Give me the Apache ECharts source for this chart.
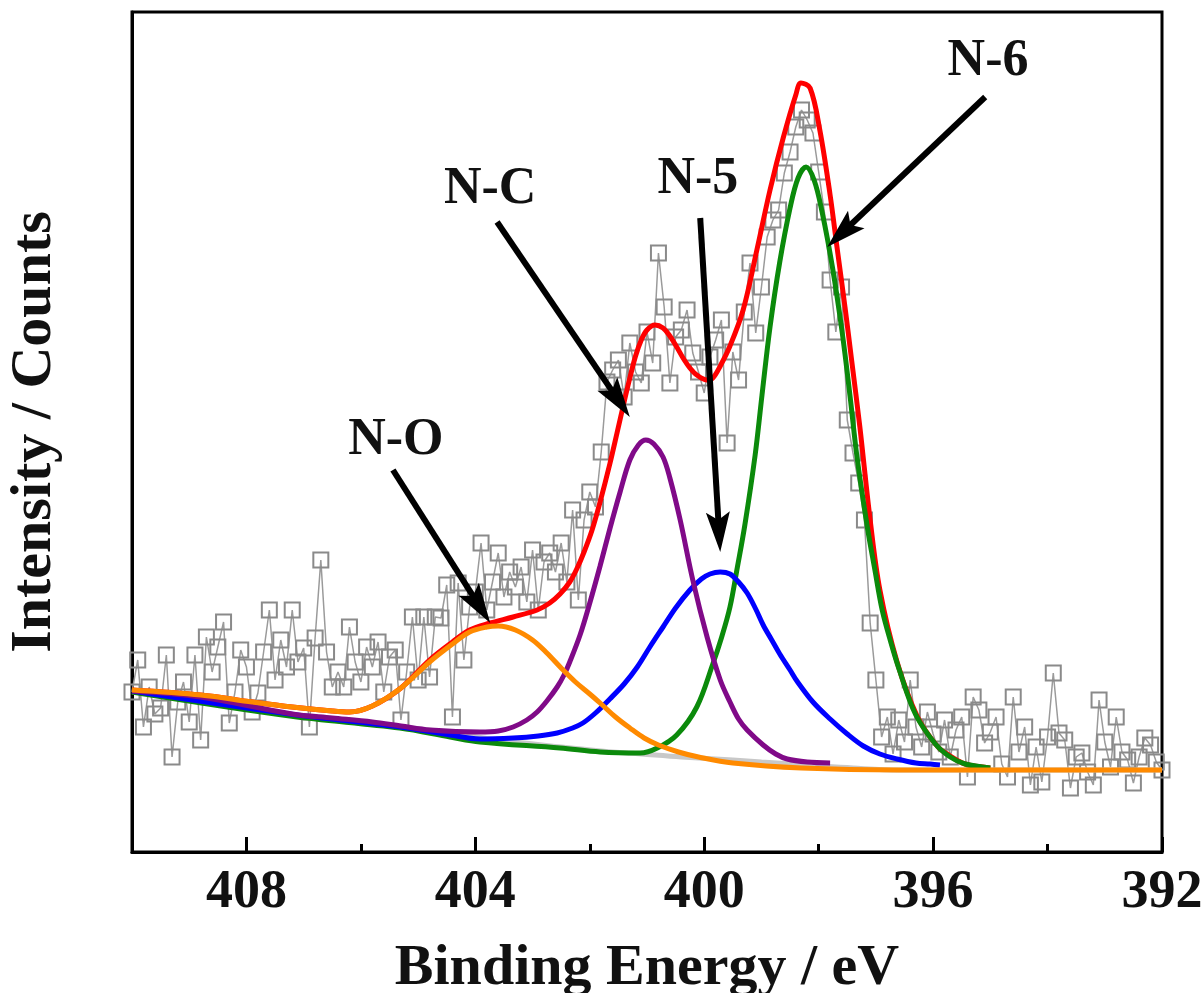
<!DOCTYPE html>
<html><head><meta charset="utf-8">
<script src="https://cdn.jsdelivr.net/npm/echarts@6/dist/echarts.min.js"></script>
<style>html,body{margin:0;padding:0;background:#fff}#c{width:1203px;height:993px}</style>
</head><body><div id="c"></div>
<script>
// ---- data (binding energy in eV, intensity in arbitrary counts) ----
const energy = [
410.0,409.9,409.8,409.7,409.6,409.5,409.4,409.3,409.2,409.1,
409.0,408.9,408.8,408.7,408.6,408.5,408.4,408.3,408.2,408.1,
408.0,407.9,407.8,407.7,407.6,407.5,407.4,407.3,407.2,407.1,
407.0,406.9,406.8,406.7,406.6,406.5,406.4,406.3,406.2,406.1,
406.0,405.9,405.8,405.7,405.6,405.5,405.4,405.3,405.2,405.1,
405.0,404.9,404.8,404.7,404.6,404.5,404.4,404.3,404.2,404.1,
404.0,403.9,403.8,403.7,403.6,403.5,403.4,403.3,403.2,403.1,
403.0,402.9,402.8,402.7,402.6,402.5,402.4,402.3,402.2,402.1,
402.0,401.9,401.8,401.7,401.6,401.5,401.4,401.3,401.2,401.1,
401.0,400.9,400.8,400.7,400.6,400.5,400.4,400.3,400.2,400.1,
400.0,399.9,399.8,399.7,399.6,399.5,399.4,399.3,399.2,399.1,
399.0,398.9,398.8,398.7,398.6,398.5,398.4,398.3,398.2,398.1,
398.0,397.9,397.8,397.7,397.6,397.5,397.4,397.3,397.2,397.1,
397.0,396.9,396.8,396.7,396.6,396.5,396.4,396.3,396.2,396.1,
396.0,395.9,395.8,395.7,395.6,395.5,395.4,395.3,395.2,395.1,
395.0,394.9,394.8,394.7,394.6,394.5,394.4,394.3,394.2,394.1,
394.0,393.9,393.8,393.7,393.6,393.5,393.4,393.3,393.2,393.1,
393.0,392.9,392.8,392.7,392.6,392.5,392.4,392.3,392.2,392.1,
392.0];
const counts = [
160,192,125,165,138,144,197,95,150,170,
130,197,112,215,180,205,230,129,160,202,
185,140,159,200,242,172,212,185,242,190,
204,125,214,292,200,165,180,165,225,190,
170,205,185,210,160,195,202,132,180,235,
172,235,175,235,234,267,135,269,192,245,
260,309,242,270,299,255,280,265,285,250,
302,242,290,299,280,309,270,342,252,332,
360,345,400,470,482,492,455,509,480,469,
520,489,599,545,469,515,522,542,499,480,
459,495,512,532,409,500,472,540,589,519,
565,615,632,642,679,700,725,742,732,719,
680,640,572,520,565,432,399,369,332,229,
172,115,135,98,132,110,172,125,105,140,
118,100,132,95,122,135,75,155,142,109,
120,135,88,75,155,100,125,67,105,70,
115,179,119,112,64,95,99,80,67,152,
110,85,135,100,92,69,95,114,107,90,
82];

const background = [[410.0,160],[408.8,155],[407.2,137],[406.2,130],[405.3,125],[404.4,119],[403.6,112],[402.5,105],[401.8,101],[401.1,98],[400.4,95],[399.5,92],[399.0,90],[398.2,87],[397.4,84],[396.6,82],[392.0,82]];
const fitEnvelope = [[410.0,162],[408.8,157],[407.9,150],[407.2,145],[406.5,141],[406.2,140],[405.8,146],[405.3,164],[404.8,192],[404.4,210],[404.1,222],[403.74,229],[403.34,235],[402.92,242],[402.7,249],[402.52,258],[402.35,270],[402.22,284],[402.1,300],[401.96,322],[401.82,350],[401.65,388],[401.52,420],[401.4,450],[401.3,474],[401.2,496],[401.1,512],[401.0,522],[400.86,527],[400.72,524],[400.6,516],[400.48,505],[400.37,494],[400.25,484],[400.13,477],[399.95,472],[399.85,474],[399.72,486],[399.55,506],[399.32,542],[399.08,602],[398.85,662],[398.62,714],[398.4,757],[398.31,769],[398.15,764],[397.98,722],[397.8,657],[397.68,605],[397.54,545],[397.42,490],[397.28,425],[397.1,332],[396.93,262],[396.63,190],[396.28,136],[395.93,106],[395.7,96],[395.44,88],[395.0,84]];
const peakN6 = [[410.0,160],[407.24,136],[405.32,124],[404.44,115],[403.92,110],[402.52,104],[401.82,100],[401.12,99],[400.82,104],[400.48,117],[400.13,145],[399.85,188],[399.7,214],[399.55,245],[399.42,285],[399.29,327],[399.11,397],[398.99,457],[398.85,525],[398.68,590],[398.5,644],[398.36,674],[398.22,685],[398.08,672],[397.94,640],[397.76,585],[397.59,520],[397.45,455],[397.33,395],[397.15,325],[397.02,283],[396.89,242],[396.74,210],[396.59,182],[396.31,138],[395.96,108],[395.7,95],[395.44,88],[395.0,84]];
const peakN5 = [[410.0,161],[407.24,138],[405.32,125],[404.44,117],[403.92,113],[403.34,114],[402.9,116],[402.57,119],[402.3,124],[402.12,129],[401.9,139],[401.65,153],[401.4,168],[401.17,185],[400.95,205],[400.72,225],[400.5,244],[400.25,262],[400.05,273],[399.9,278],[399.72,280],[399.55,278],[399.4,270],[399.25,259],[399.1,243],[398.97,227],[398.82,212],[398.68,198],[398.5,182],[398.38,171],[398.1,150],[397.8,133],[397.5,118],[397.22,106],[396.93,98],[396.63,93],[396.3,89],[396.05,88],[395.88,87]];
const peakNC = [[410.0,161],[408.8,155],[407.2,138],[406.5,134],[405.8,130],[405.3,126],[404.79,122],[403.92,120],[403.6,121],[403.34,125],[403.1,132],[402.92,140],[402.75,151],[402.57,165],[402.45,177],[402.35,190],[402.17,217],[402.0,249],[401.82,286],[401.65,323],[401.47,360],[401.3,392],[401.15,407],[401.02,412],[400.88,408],[400.72,395],[400.6,374],[400.42,332],[400.2,272],[399.95,215],[399.72,172],[399.55,150],[399.4,133],[399.25,122],[398.97,107],[398.75,98],[398.55,93],[398.2,90],[397.8,89]];
const peakNO = [[410.0,162],[408.8,157],[407.9,150],[407.2,145],[406.5,141],[406.2,140],[405.8,146],[405.3,164],[404.8,190],[404.4,208],[404.1,220],[403.8,225],[403.6,226],[403.3,222],[403.0,212],[402.75,199],[402.5,184],[402.25,170],[402.0,158],[401.8,148],[401.55,135],[401.3,124],[401.05,114],[400.8,107],[400.45,100],[400.1,95],[399.5,89],[398.3,84],[396.6,82],[392.0,82]];

const xTickValues = [408, 404, 400, 396, 392];
const annotationText = ['N-6', 'N-C', 'N-5', 'N-O'];
const annotationAt = [[395.04,790],[403.74,662],[400.11,672],[405.39,411]];
const arrowFrom = [[395.09,755],[403.62,630],[400.07,634],[405.44,382]];
const arrowTo = [[397.85,605],[401.30,435],[399.72,300],[403.74,229]];

// ---- chart ----
const font = "'Liberation Serif','Times New Roman',serif";
const chart = echarts.init(document.getElementById('c'), null, {renderer: 'canvas'});

function fitLine(name, data, color, z) {
  return {type: 'line', name, data, smooth: 0.35, showSymbol: false, symbol: 'none',
    lineStyle: {color, width: 5}, z, silent: true, animation: false};
}

const option = {
  animation: false,
  backgroundColor: '#fff',
  grid: {left: 132, right: 41, top: 12, bottom: 141, containLabel: false, outerBoundsMode: 'none',
    show: true, borderColor: '#000', borderWidth: 3, backgroundColor: 'transparent'},
  xAxis: [{
    type: 'value', min: 392, max: 410, interval: 4, inverse: true,
    name: 'Binding Energy / eV', nameLocation: 'middle', nameGap: 88,
    nameTextStyle: {fontFamily: font, fontWeight: 'bold', fontSize: 58, color: '#111'},
    axisLine: {show: true, lineStyle: {color: '#000', width: 3}},
    axisTick: {show: true, inside: true, length: 15, lineStyle: {color: '#000', width: 3}},
    axisLabel: {show: true, margin: 14, fontFamily: font, fontWeight: 'bold', fontSize: 54, color: '#111',
      showMaxLabel: false, showMinLabel: true,
      formatter: v => xTickValues.includes(v) ? String(v) : ''},
    splitLine: {show: false}
  }, {
    type: 'value', min: 392, max: 410, interval: 2, inverse: true, position: 'bottom',
    axisLine: {show: false},
    axisTick: {show: true, inside: true, length: 8, lineStyle: {color: '#000', width: 3}},
    axisLabel: {show: false}, splitLine: {show: false}
  }],
  yAxis: {
    type: 'value', min: 0, max: 840,
    name: 'Intensity / Counts', nameLocation: 'middle', nameGap: 68,
    nameTextStyle: {fontFamily: font, fontWeight: 'bold', fontSize: 58, color: '#111'},
    axisLine: {show: true, lineStyle: {color: '#000', width: 3}},
    axisTick: {show: false}, axisLabel: {show: false}, splitLine: {show: false}
  },
  series: [
    {type: 'line', name: 'measured', data: energy.map((e, i) => [e, counts[i]]),
      symbol: 'rect', symbolSize: 15, showAllSymbol: true,
      itemStyle: {color: 'rgba(255,255,255,0)', borderColor: '#8a8a8a', borderWidth: 2},
      lineStyle: {color: '#9a9a9a', width: 1.5}, z: 1, silent: true},
    fitLine('background', background, '#c8c8c8', 2),
    fitLine('envelope', fitEnvelope, '#ff0000', 3),
    fitLine('N-6', peakN6, '#0b8a0b', 4),
    fitLine('N-5', peakN5, '#0000ff', 5),
    fitLine('N-C', peakNC, '#800a88', 6),
    fitLine('N-O', peakNO, '#ff8a00', 7)
  ]
};
chart.setOption(option);

// arrows and labels positioned through the axes' own scales
const L = 40, W = 12;
const elements = [];
const toPx = p => chart.convertToPixel({xAxisIndex: 0, yAxisIndex: 0}, p);
arrowFrom.forEach((from, i) => {
  const p0 = toPx(from);
  const p1 = toPx(arrowTo[i]);
  const dx = p1[0] - p0[0], dy = p1[1] - p0[1];
  const len = Math.hypot(dx, dy);
  const ux = dx / len, uy = dy / len, nx = -uy, ny = ux;
  const bx = p1[0] - ux * L, by = p1[1] - uy * L;
  elements.push({type: 'line', z: 20, shape: {x1: p0[0], y1: p0[1], x2: p1[0] - ux * L * 0.7, y2: p1[1] - uy * L * 0.7},
    style: {stroke: '#000', lineWidth: 6}});
  elements.push({type: 'polygon', z: 21, shape: {points: [[p1[0], p1[1]], [bx + nx * W, by + ny * W], [p1[0] - ux * L * 0.8, p1[1] - uy * L * 0.8], [bx - nx * W, by - ny * W]]},
    style: {fill: '#000'}});
});
annotationAt.forEach((p, i) => {
  const q = toPx(p);
  elements.push({type: 'text', z: 22, x: q[0], y: q[1],
    style: {text: annotationText[i], fill: '#111', font: "bold 52px 'Liberation Serif','Times New Roman',serif",
      align: 'center', verticalAlign: 'middle'}});
});
chart.setOption({graphic: {elements}});
</script>
</body></html>
